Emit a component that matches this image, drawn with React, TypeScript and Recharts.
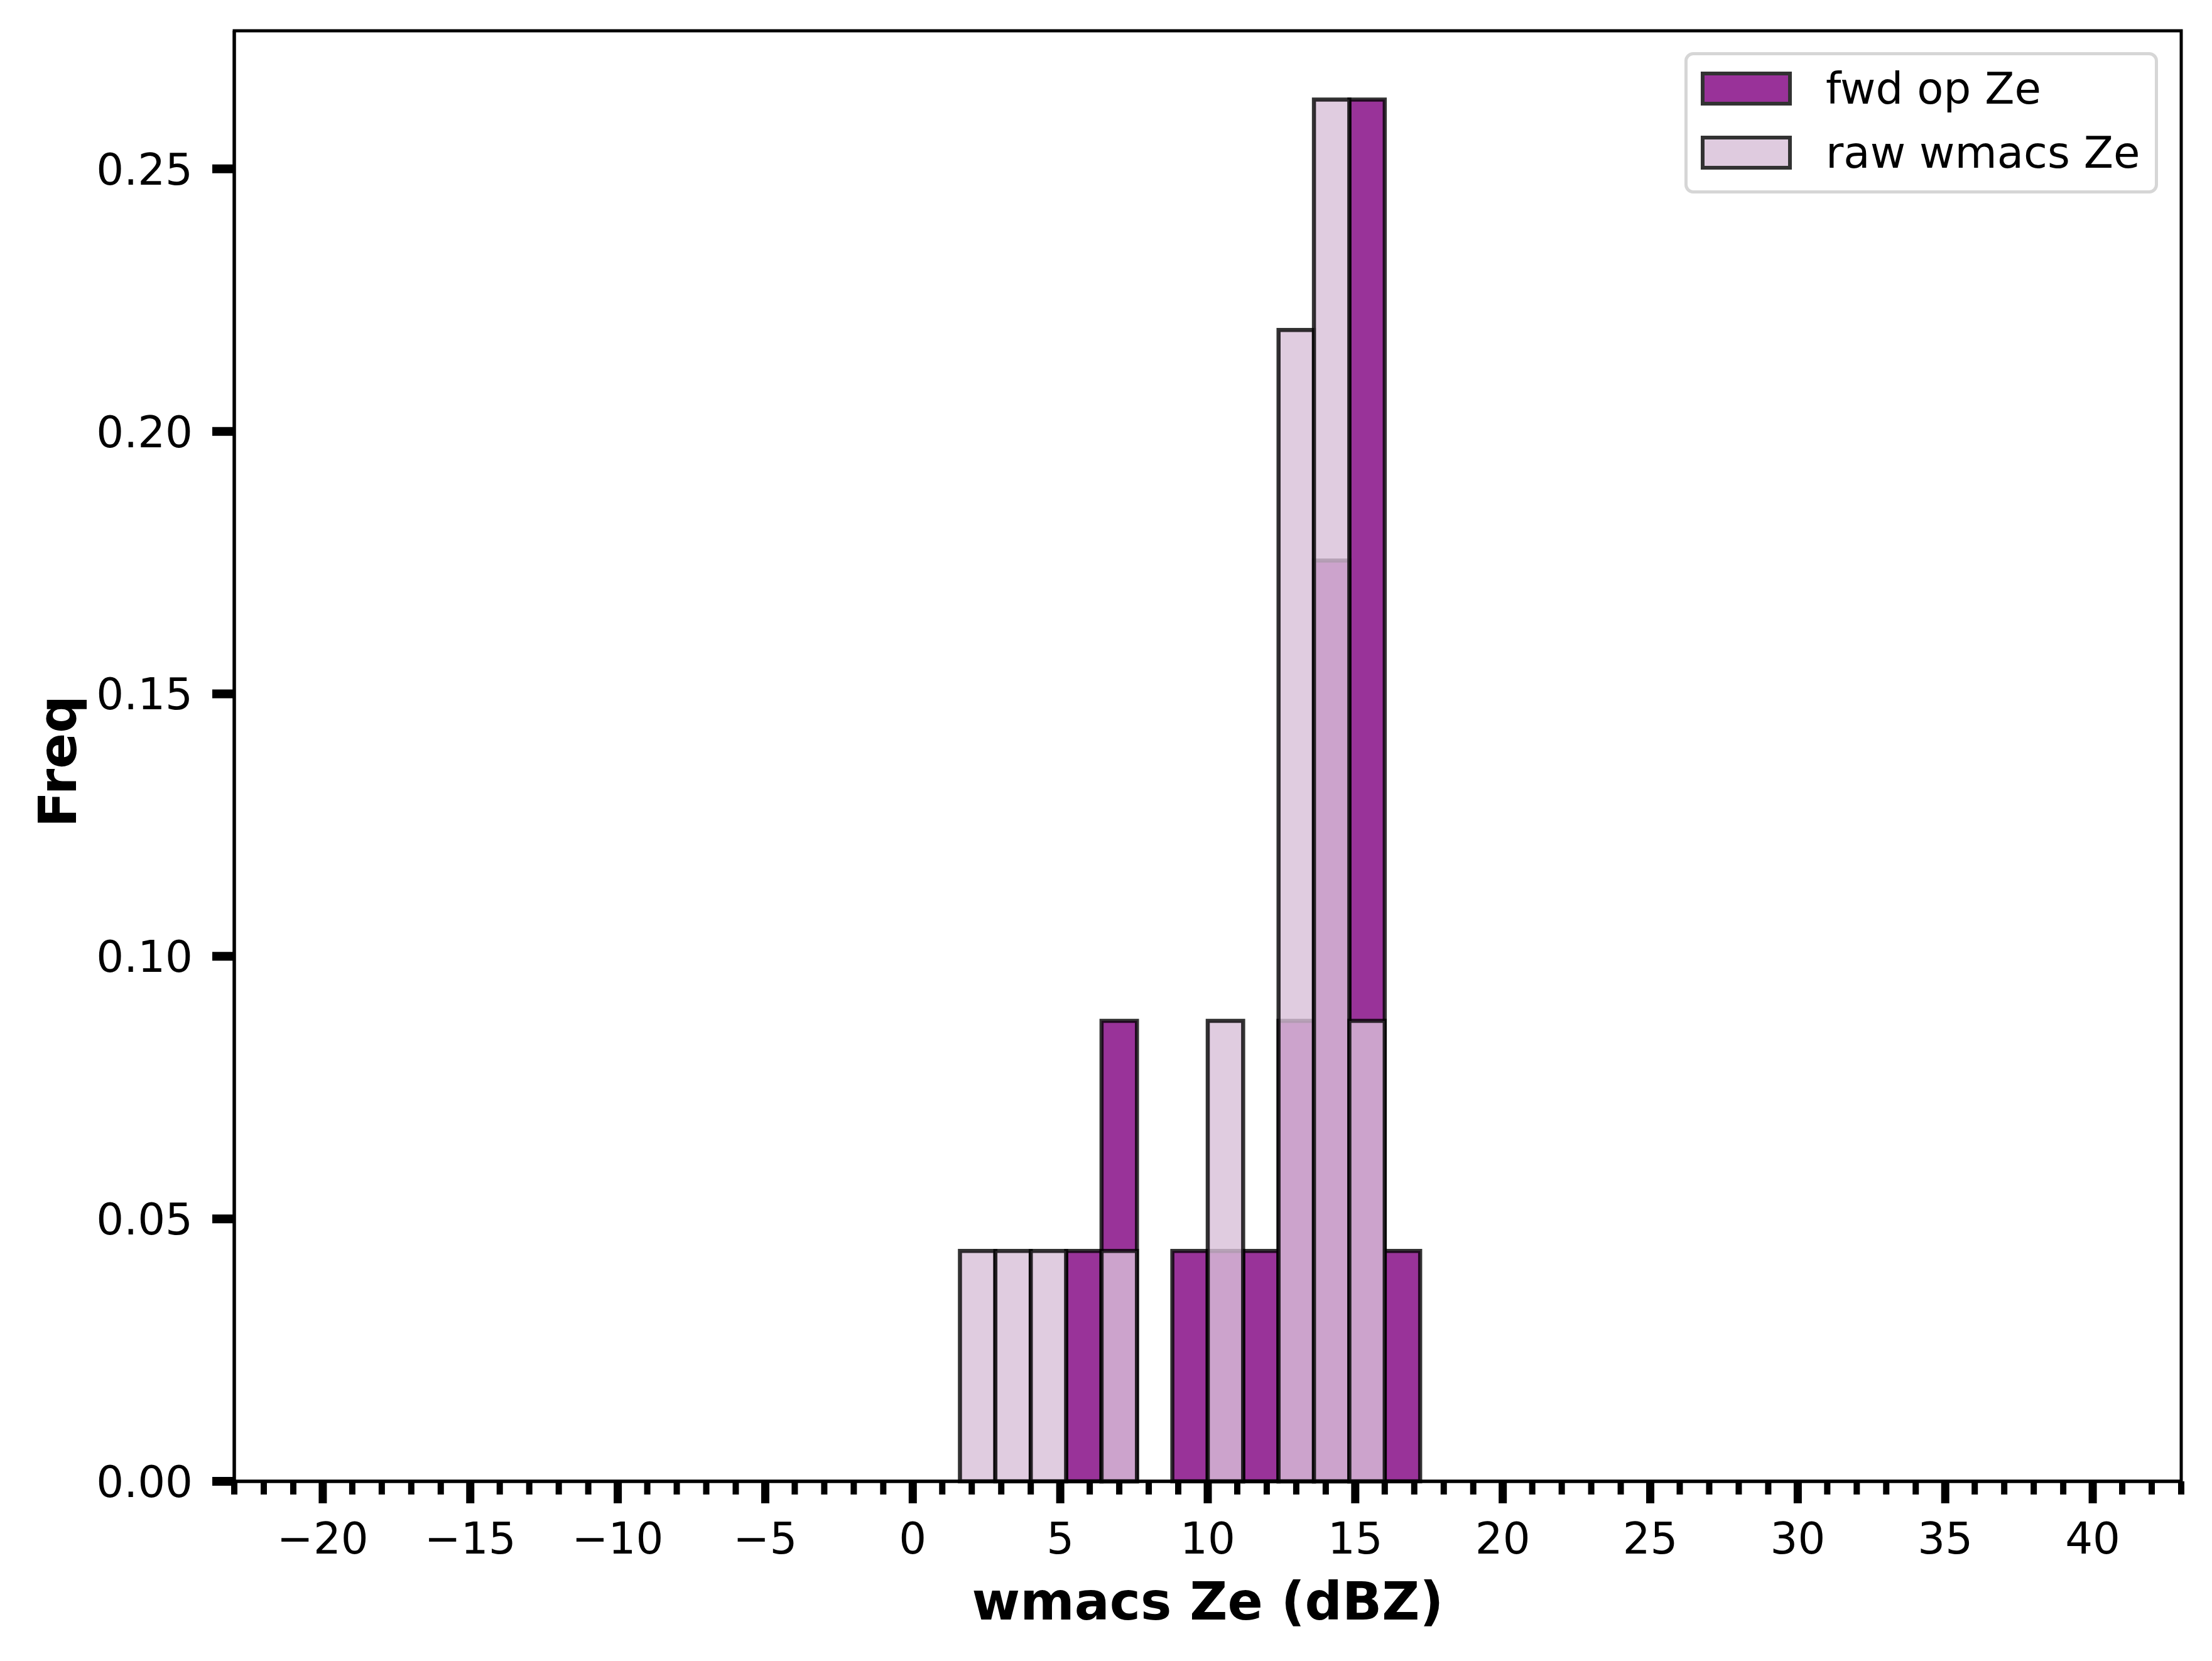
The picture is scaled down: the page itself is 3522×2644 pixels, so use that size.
import React from "react";
import { ComposedChart, XAxis, YAxis, ReferenceArea, Label } from "recharts";

const FONT = "'DejaVu Sans', 'Liberation Sans', sans-serif";

// histogram bins (bin width 1.2 dBZ), density values
const binEdges = [1.6, 2.8, 4.0, 5.2, 6.4, 7.6, 8.8, 10.0, 11.2, 12.4, 13.6, 14.8, 16.0, 17.2];
const fwdOpZe = [0, 0, 0, 0.0439, 0.0877, 0, 0.0439, 0.0439, 0.0439, 0.0877, 0.1754, 0.2632, 0.0439];
const rawWmacsZe = [0.0439, 0.0439, 0.0439, 0, 0.0439, 0, 0, 0.0877, 0, 0.2193, 0.2632, 0.0877, 0];

const xMajorTicks = [-20, -15, -10, -5, 0, 5, 10, 15, 20, 25, 30, 35, 40];
const xAllTicks = Array.from({ length: 67 }, (_, i) => i - 23);
const yTicks = [0, 0.05, 0.1, 0.15, 0.2, 0.25];
const xDomain = [-23, 43];
const yDomain = [0, 0.2763];

const FWD_FILL = "#800080";
const RAW_FILL = "#d8bfd8";
const legendItems = [
  { label: "fwd op Ze", fill: FWD_FILL },
  { label: "raw wmacs Ze", fill: RAW_FILL },
];

function XTick({ x, y, payload }: any) {
  const v = payload.value;
  const major = xMajorTicks.includes(v);
  return (
    <g>
      <line x1={x} x2={x} y1={y} y2={y + (major ? 35 : 21)} stroke="#000" strokeWidth={major ? 13 : 10} />
      {major && (
        <text x={x} y={y + 115} textAnchor="middle" fontSize={69} fontFamily={FONT} fill="#000">
          {v < 0 ? `\u2212${-v}` : `${v}`}
        </text>
      )}
    </g>
  );
}

function YTick({ x, y, payload }: any) {
  return (
    <g>
      <line x1={x - 35} x2={x} y1={y} y2={y} stroke="#000" strokeWidth={14} />
      <text x={x - 66} y={y + 25} textAnchor="end" fontSize={69} fontFamily={FONT} fill="#000">
        {payload.value.toFixed(2)}
      </text>
    </g>
  );
}

function LegendBox() {
  return (
    <div
      style={{
        position: "absolute",
        left: 2682,
        top: 83,
        width: 754,
        height: 225,
        boxSizing: "border-box",
        border: "5px solid #d6d6d6",
        borderRadius: 14,
        background: "rgba(255,255,255,0.8)",
      }}
    >
      {legendItems.map((it, i) => (
        <div
          key={it.label}
          style={{ position: "absolute", left: 21, top: 26 + i * 102, height: 54, display: "flex", alignItems: "center" }}
        >
          <div
            style={{
              width: 145,
              height: 54,
              boxSizing: "border-box",
              background: it.fill,
              opacity: 0.8,
              border: "6px solid #000",
            }}
          />
          <span style={{ marginLeft: 54, fontSize: 69, fontFamily: FONT, lineHeight: 1, color: "#000", whiteSpace: "nowrap" }}>
            {it.label}
          </span>
        </div>
      ))}
    </div>
  );
}

export default function App() {
  const bins = binEdges.slice(0, -1).map((lo, i) => ({
    lo,
    hi: binEdges[i + 1],
    fwd: fwdOpZe[i],
    raw: rawWmacsZe[i],
  }));
  const edge = { stroke: "#000", strokeOpacity: 0.8, strokeWidth: 6.5 };

  return (
    <div style={{ position: "absolute", left: 0, top: 0, width: 3522, height: 2644, background: "#fff" }}>
      <ComposedChart
        width={3522}
        height={2644}
        data={bins}
        margin={{ top: 49, right: 49, bottom: 86, left: 73 }}
      >
        <XAxis
          type="number"
          dataKey="lo"
          domain={xDomain}
          allowDataOverflow
          ticks={xAllTicks}
          interval={0}
          tick={<XTick />}
          tickSize={0}
          tickMargin={0}
          tickLine={false}
          axisLine={{ stroke: "#000", strokeWidth: 5 }}
          height={200}
        >
          <Label
            content={({ viewBox }: any) => (
              <text
                x={viewBox.x + viewBox.width / 2}
                y={viewBox.y + 220}
                textAnchor="middle"
                fontSize={83}
                fontWeight="bold"
                fontFamily={FONT}
                fill="#000"
              >
                wmacs Ze (dBZ)
              </text>
            )}
          />
        </XAxis>
        <YAxis
          type="number"
          domain={yDomain}
          allowDataOverflow
          ticks={yTicks}
          interval={0}
          tick={<YTick />}
          tickSize={0}
          tickMargin={0}
          tickLine={false}
          axisLine={{ stroke: "#000", strokeWidth: 5 }}
          width={300}
        >
          <Label
            content={() => (
              <text
                x={121}
                y={1212}
                transform="rotate(-90, 121, 1212)"
                textAnchor="middle"
                fontSize={84}
                fontWeight="bold"
                fontFamily={FONT}
                fill="#000"
              >
                Freq
              </text>
            )}
          />
        </YAxis>
        {bins
          .filter((b) => b.fwd > 0)
          .map((b) => (
            <ReferenceArea
              key={`fwd-${b.lo}`}
              x1={b.lo}
              x2={b.hi}
              y1={0}
              y2={b.fwd}
              fill={FWD_FILL}
              fillOpacity={0.8}
              {...edge}
              isAnimationActive={false}
            />
          ))}
        {bins
          .filter((b) => b.raw > 0)
          .map((b) => (
            <ReferenceArea
              key={`raw-${b.lo}`}
              x1={b.lo}
              x2={b.hi}
              y1={0}
              y2={b.raw}
              fill={RAW_FILL}
              fillOpacity={0.8}
              {...edge}
              isAnimationActive={false}
            />
          ))}
        {/* axes frame (top and right spines) */}
        <ReferenceArea
          x1={xDomain[0]}
          x2={xDomain[1]}
          y1={yDomain[0]}
          y2={yDomain[1]}
          fill="none"
          stroke="#000"
          strokeWidth={5}
          ifOverflow="visible"
          isAnimationActive={false}
        />
      </ComposedChart>
      <LegendBox />
    </div>
  );
}
